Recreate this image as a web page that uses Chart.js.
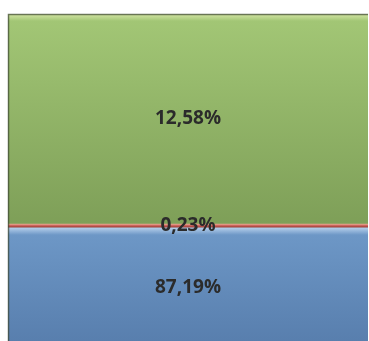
<!DOCTYPE html>
<html lang="en">
<head>
    <meta charset="UTF-8">
    <title>Anteile</title>
    <script src="https://cdn.jsdelivr.net/npm/chart.js"></script>
    <style>
        html, body {
            margin: 0;
            padding: 0;
            background: #ffffff;
            overflow: hidden;
        }
        #wrap {
            position: relative;
            width: 376px;
            height: 348px;
        }
    </style>
</head>
<body>
    <div id="wrap"><canvas id="shareChart"></canvas></div>
    <script>
        // stacked from the bottom up
        const categories = [""];
        const seriesNames = ["blau", "rot", "grün"];
        const blueValues = [87.19];
        const redValues = [0.23];
        const greenValues = [12.58];
        const valueLabels = ["87,19%", "0,23%", "12,58%"];

        // light / mid / dark stops per segment
        const shades = [
            ["#b3cdea", "#6d97c6", "#577dac"],
            ["#e8a890", "#c0504d", "#8a3a2a"],
            ["#d5e6a5", "#a2c675", "#7e9f58"]
        ];

        function segmentBounds(chart, dsIndex) {
            const y = chart.scales.y;
            const area = chart.chartArea;
            let base = 0;
            for (let i = 0; i < dsIndex; i++) base += chart.data.datasets[i].data[0];
            const top = base + chart.data.datasets[dsIndex].data[0];
            return {
                top: Math.max(y.getPixelForValue(top), area.top),
                bottom: Math.min(y.getPixelForValue(base), area.bottom)
            };
        }

        function fill(ctx) {
            const chart = ctx.chart;
            if (!chart.chartArea) return shades[ctx.datasetIndex][1];
            const b = segmentBounds(chart, ctx.datasetIndex);
            const s = shades[ctx.datasetIndex];
            const g = chart.ctx.createLinearGradient(0, b.top, 0, b.bottom);
            const h = Math.max(b.bottom - b.top, 1);
            g.addColorStop(0, s[0]);
            g.addColorStop(Math.min(7 / h, 0.5), s[1]);
            g.addColorStop(1, s[2]);
            return g;
        }

        // value labels centred in the visible part of each segment
        const centreLabels = {
            id: "centreLabels",
            afterDatasetsDraw(chart) {
                const c = chart.ctx;
                const meta = chart.getDatasetMeta(0);
                const x = meta.data[0].x;
                c.save();
                c.font = "bold 19px 'Open Sans', sans-serif";
                c.fillStyle = "#2b2b2b";
                c.textAlign = "center";
                c.textBaseline = "middle";
                chart.data.datasets.forEach((ds, i) => {
                    const b = segmentBounds(chart, i);
                    c.fillText(valueLabels[i], x, (b.top + b.bottom) / 2);
                });
                c.restore();
            }
        };

        // dark rim on the left and top of the bar
        const barRim = {
            id: "barRim",
            afterDatasetsDraw(chart) {
                const a = chart.chartArea;
                const c = chart.ctx;
                c.save();
                c.strokeStyle = "rgba(60,70,50,0.7)";
                c.lineWidth = 1.5;
                c.beginPath();
                c.moveTo(a.left + 0.5, a.bottom);
                c.lineTo(a.left + 0.5, a.top + 0.5);
                c.lineTo(a.right, a.top + 0.5);
                c.stroke();
                c.restore();
            }
        };

        new Chart(document.getElementById("shareChart"), {
            type: "bar",
            data: {
                labels: categories,
                datasets: [
                    { label: seriesNames[0], data: blueValues, backgroundColor: fill },
                    { label: seriesNames[1], data: redValues, backgroundColor: fill },
                    { label: seriesNames[2], data: greenValues, backgroundColor: fill }
                ]
            },
            options: {
                responsive: true,
                maintainAspectRatio: false,
                animation: false,
                layout: { padding: { left: 8, top: 14, right: 8, bottom: 0 } },
                datasets: { bar: { barPercentage: 1, categoryPercentage: 1, borderWidth: 0 } },
                plugins: {
                    legend: { display: false },
                    tooltip: { enabled: false }
                },
                scales: {
                    x: { stacked: true, display: false },
                    y: { stacked: true, display: false, min: 80, max: 100 }
                }
            },
            plugins: [centreLabels, barRim]
        });
    </script>
</body>
</html>
